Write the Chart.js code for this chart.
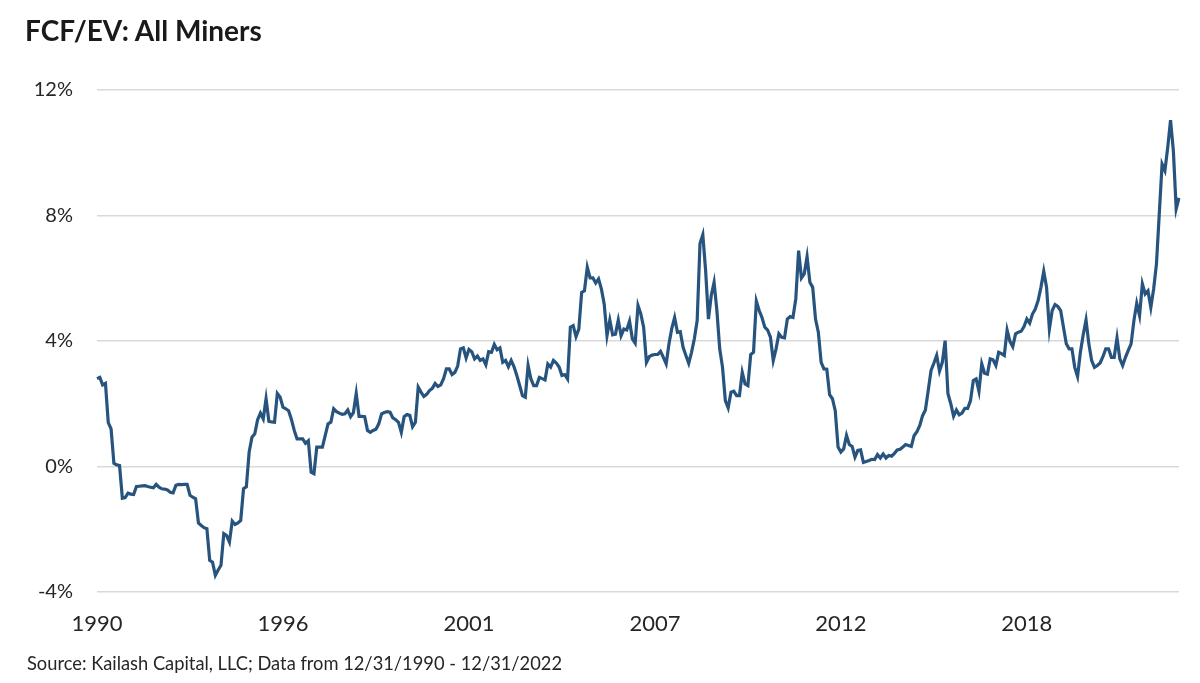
<!DOCTYPE html>
<html>
<head>
<meta charset="utf-8">
<script src="https://cdn.jsdelivr.net/npm/chart.js@4.4.1/dist/chart.umd.min.js"></script>
<style>
  html, body { margin: 0; padding: 0; background: #ffffff; }
  body { width: 1200px; height: 683px; position: relative; overflow: hidden; font-family: Lato, "Open Sans", sans-serif; }
  #title { position: absolute; left: 25px; top: 13px; font-size: 28px; font-weight: bold; color: #1a1a1a; white-space: nowrap; }
  #source { position: absolute; left: 27px; top: 652px; font-size: 18.3px; color: #262626; white-space: nowrap; }
  #wrap { position: absolute; left: 0; top: 0; width: 1200px; height: 683px; }
</style>
</head>
<body>
<div id="wrap"><canvas id="c"></canvas></div>
<div id="title">FCF/EV: All Miners</div>
<div id="source">Source: Kailash Capital, LLC; Data from 12/31/1990 - 12/31/2022</div>
<script>
// Monthly FCF/EV (%) for All Miners, Dec 1990 - Dec 2022
const valuesA = [ // Dec 1990 - Nov 1998
  2.80, 2.84, 2.60, 2.65, 1.40, 1.20, 0.10, 0.05, 0.03, -1.01, -0.99, -0.85,
  -0.88, -0.89, -0.64, -0.63, -0.62, -0.61, -0.64, -0.66, -0.68, -0.57, -0.66, -0.71,
  -0.72, -0.75, -0.82, -0.84, -0.60, -0.57, -0.58, -0.57, -0.57, -0.92, -0.98, -1.03,
  -1.80, -1.88, -1.95, -1.98, -2.99, -3.05, -3.47, -3.30, -3.15, -2.14, -2.20, -2.41,
  -1.74, -1.85, -1.80, -1.72, -0.71, -0.65, 0.46, 0.93, 1.04, 1.49, 1.70, 1.52,
  2.16, 1.44, 1.42, 1.41, 2.33, 2.21, 1.89, 1.84, 1.78, 1.50, 1.15, 0.88,
  0.88, 0.88, 0.74, 0.82, -0.18, -0.23, 0.62, 0.62, 0.62, 0.99, 1.36, 1.41,
  1.84, 1.75, 1.70, 1.66, 1.68, 1.80, 1.59, 1.72, 2.33, 1.60, 1.60, 1.59
];
const valuesB = [ // Dec 1998 - Nov 2006
  1.15, 1.09, 1.15, 1.19, 1.36, 1.68, 1.72, 1.75, 1.73, 1.55, 1.49, 1.41,
  1.09, 1.59, 1.66, 1.63, 1.27, 1.41, 2.53, 2.37, 2.23, 2.30, 2.42, 2.49,
  2.65, 2.55, 2.60, 2.80, 3.11, 3.11, 2.93, 3.00, 3.20, 3.75, 3.78, 3.46,
  3.73, 3.66, 3.43, 3.52, 3.38, 3.43, 3.24, 3.66, 3.64, 3.89, 3.72, 3.78,
  3.32, 3.38, 3.18, 3.38, 3.18, 2.90, 2.58, 2.26, 2.21, 3.22, 2.79, 2.58,
  2.58, 2.84, 2.80, 2.76, 3.27, 3.17, 3.38, 3.30, 3.17, 2.90, 2.93, 2.79,
  4.44, 4.49, 4.14, 4.38, 5.55, 5.60, 6.35, 6.01, 6.01, 5.85, 5.98, 5.66,
  5.18, 4.17, 4.67, 4.20, 4.22, 4.67, 4.17, 4.38, 4.35, 4.63, 4.07, 3.93
];
const valuesC = [ // Dec 2006 - Nov 2014
  5.13, 4.86, 4.44, 3.32, 3.50, 3.55, 3.57, 3.57, 3.67, 3.48, 3.27, 3.91,
  4.40, 4.75, 4.28, 4.30, 3.80, 3.54, 3.29, 3.64, 4.07, 4.65, 7.11, 7.39,
  6.24, 4.70, 5.45, 5.87, 4.97, 3.75, 3.16, 2.10, 1.87, 2.37, 2.40, 2.26,
  2.26, 3.00, 2.63, 2.58, 3.57, 3.64, 5.27, 4.97, 4.75, 4.44, 4.35, 4.12,
  3.38, 3.75, 4.23, 4.12, 4.10, 4.70, 4.78, 4.75, 5.34, 6.88, 6.01, 6.14,
  6.69, 5.87, 5.71, 4.70, 4.28, 3.32, 3.11, 3.10, 2.29, 2.16, 1.78, 0.62,
  0.46, 0.56, 0.99, 0.70, 0.64, 0.30, 0.51, 0.53, 0.13, 0.16, 0.19, 0.23,
  0.22, 0.38, 0.27, 0.40, 0.27, 0.35, 0.33, 0.42, 0.53, 0.55, 0.62, 0.70
];
const valuesD = [ // Dec 2014 - Dec 2022
  0.67, 0.64, 0.99, 1.11, 1.31, 1.62, 1.80, 2.42, 3.06, 3.29, 3.54, 3.04,
  3.32, 4.01, 2.32, 2.00, 1.60, 1.80, 1.65, 1.70, 1.85, 1.85, 2.10, 2.74,
  2.79, 2.40, 3.27, 2.97, 2.94, 3.43, 3.40, 3.22, 3.64, 3.60, 3.54, 4.35,
  3.99, 3.82, 4.23, 4.28, 4.31, 4.46, 4.70, 4.57, 4.86, 5.02, 5.29, 5.71,
  6.22, 5.71, 4.38, 4.97, 5.16, 5.10, 4.97, 4.44, 3.91, 3.75, 3.75, 3.16,
  2.87, 3.64, 4.20, 4.67, 3.91, 3.38, 3.16, 3.22, 3.30, 3.50, 3.75, 3.75,
  3.48, 3.48, 4.10, 3.43, 3.22, 3.48, 3.70, 3.91, 4.65, 5.20, 4.81, 5.82,
  5.50, 5.60, 5.07, 5.66, 6.46, 8.05, 9.64, 9.43, 10.17, 11.04, 10.06, 8.21,
  8.56
];
const tickLabels = ["1990", "1996", "2001", "2007", "2012", "2018"];
const tickEvery = 66; // months between labelled ticks
const yTicks = [-4, 0, 4, 8, 12];

const values = [].concat(valuesA, valuesB, valuesC, valuesD);
const monthNames = ["Jan","Feb","Mar","Apr","May","Jun","Jul","Aug","Sep","Oct","Nov","Dec"];
const categories = values.map((_, i) => {
  const m = (11 + i) % 12;
  const y = 1990 + Math.floor((11 + i) / 12);
  return monthNames[m] + " " + y;
});

new Chart(document.getElementById('c'), {
  type: 'line',
  data: {
    labels: categories,
    datasets: [{
      data: values,
      borderColor: '#27547e',
      borderWidth: 3.2,
      pointRadius: 0,
      tension: 0,
      fill: false
    }]
  },
  options: {
    responsive: true,
    maintainAspectRatio: false,
    animation: false,
    layout: { padding: { left: 0, right: 21, top: 90, bottom: 41 } },
    plugins: { legend: { display: false }, tooltip: { enabled: false }, title: { display: false } },
    scales: {
      x: {
        type: 'category',
        offset: false,
        grid: { display: false, drawTicks: false },
        border: { display: false },
        ticks: {
          autoSkip: false,
          maxRotation: 0,
          minRotation: 0,
          padding: 19,
          color: '#262626',
          font: { family: 'Lato', size: 22 },
          callback: function (val, index) {
            return index % tickEvery === 0 ? tickLabels[index / tickEvery] : null;
          }
        },
        afterFit: function (scale) { scale.height = 50; }
      },
      y: {
        min: yTicks[0],
        max: yTicks[yTicks.length - 1],
        afterBuildTicks: function (scale) { scale.ticks = yTicks.map(v => ({ value: v })); },
        grid: { color: '#d9d9d9', lineWidth: 1.5, drawTicks: false },
        border: { display: false },
        ticks: {
          padding: 24,
          color: '#262626',
          font: { family: 'Lato', size: 20 },
          callback: v => v + '%'
        },
        afterFit: function (scale) { scale.width = 97; }
      }
    }
  }
});
</script>
</body>
</html>
